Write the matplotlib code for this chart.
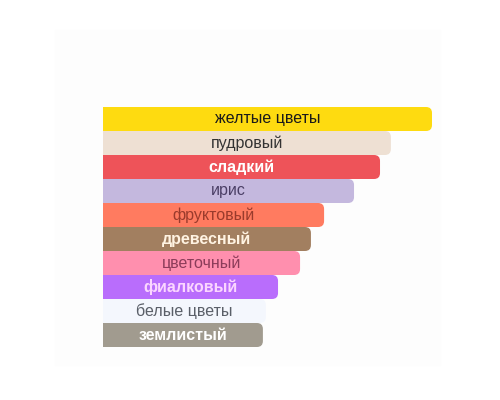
import matplotlib
matplotlib.use("Agg")
import matplotlib.pyplot as plt
from matplotlib.patches import FancyBboxPatch, Rectangle

# notes (top to bottom), relative strength
labels = ["желтые цветы", "пудровый", "сладкий", "ирис", "фруктовый",
          "древесный", "цветочный", "фиалковый", "белые цветы", "землистый"]
values = [100, 87.5, 84.2, 76.3, 67.2, 63.2, 59.9, 53.2, 49.5, 48.6]
colors = ["#fedb10", "#eee0d3", "#ee5359", "#c4b8de", "#ff7b60",
          "#a27f60", "#ff8fae", "#b96dfc", "#f4f7fd", "#a19b8f"]
text_colors = ["#1a1a1a", "#333333", "#ffffff", "#4b3f66", "#9a3b2c",
               "#fff3e2", "#8c3c5a", "#fbd6ff", "#5a5f68", "#ffffff"]
bold = [False, False, True, False, False, True, False, True, False, True]

W, H = 500, 400
fig = plt.figure(figsize=(5, 4), dpi=100)
fig.patches.append(Rectangle((55 / W, 1 - 365 / H), 385 / W, 335 / H,
                             transform=fig.transFigure, color="#fdfdfd", zorder=-5))

# axes placed so the longest bar spans x 103..432 px, rows 107..347 px
ax = fig.add_axes([103 / W, 1 - 347 / H, 329 / W, 240 / H])
ax.set_zorder(2)
ax.set_xlim(0, max(values))
ax.set_ylim(len(labels) - 0.5, -0.5)
ax.axis("off")

rad_px = 6
rx = rad_px / 329 * max(values)
ry = rad_px / 24

for i, (lab, v, c, tc, b) in enumerate(zip(labels, values, colors, text_colors, bold)):
    y0 = i - 0.5
    ax.add_patch(FancyBboxPatch((0, y0), v, 1.0,
                                boxstyle=f"round,pad=0,rounding_size={rx}",
                                mutation_aspect=ry / rx, fc=c, ec="none", zorder=2 + i))
    ax.add_patch(Rectangle((0, y0), v - rx, 1.0, fc=c, ec="none", zorder=2 + i))
    ax.text(v / 2, i, lab, ha="center", va="center", color=tc,
            fontsize=11.5, family="Liberation Sans",
            fontweight="bold" if b else "normal", zorder=20)

fig.savefig("out.png", dpi=100)
